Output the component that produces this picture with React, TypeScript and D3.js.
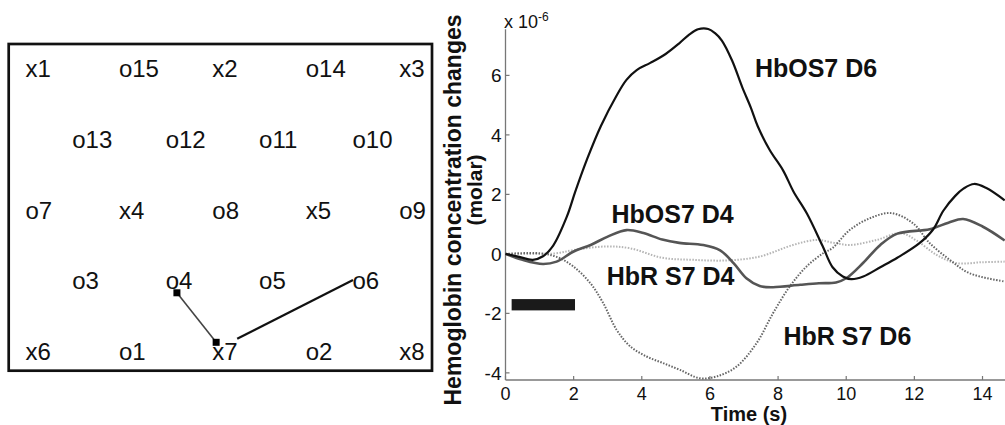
import React from "react";
import * as d3 from "d3";

// ---------- Left panel: optode layout ----------
const optodeLabels = [
  "x1", "o15", "x2", "o14", "x3",
  "o13", "o12", "o11", "o10",
  "o7", "x4", "o8", "x5", "o9",
  "o3", "o4", "o5", "o6",
  "x6", "o1", "x7", "o2", "x8",
];
const optodeCols = [0, 2, 4, 6, 8, 1, 3, 5, 7, 0, 2, 4, 6, 8, 1, 3, 5, 7, 0, 2, 4, 6, 8];
const optodeRows = [0, 0, 0, 0, 0, 1, 1, 1, 1, 2, 2, 2, 2, 2, 3, 3, 3, 3, 4, 4, 4, 4, 4];

// channels: [col,row] in grid units (S7-D4 and S7-D6)
const channelLines = [
  { from: [3.22, 3.05], to: [4.06, 3.75], color: "#444", width: 1.6, markers: true },
  { from: [4.51, 3.70], to: [6.99, 2.87], color: "#111", width: 2.2, markers: false },
];

// ---------- Right panel: time series ----------
const hboD6: [number, number][] = [
  [0, 0], [0.4, -0.1], [0.8, -0.2], [1.1, -0.08], [1.4, 0.28], [1.8, 1.25], [2.05, 2.1],
  [2.4, 3.2], [2.8, 4.3], [3.25, 5.3], [3.55, 5.85], [3.85, 6.18], [4.25, 6.42], [4.7, 6.72],
  [5.1, 7.08], [5.4, 7.38], [5.65, 7.55], [5.95, 7.56], [6.15, 7.42], [6.35, 7.17],
  [6.65, 6.5], [6.95, 5.6], [7.2, 4.92], [7.4, 4.3], [7.75, 3.5], [8.15, 2.8], [8.45, 2.1],
  [8.85, 1.35], [9.3, 0.28], [9.6, -0.45], [9.9, -0.76], [10.15, -0.85], [10.5, -0.76],
  [11.0, -0.45], [11.5, -0.13], [12.15, 0.36], [12.55, 0.82], [12.85, 1.45], [13.2, 1.95],
  [13.45, 2.2], [13.75, 2.35], [14.1, 2.22], [14.65, 1.8],
];
const hboD4: [number, number][] = [
  [0, 0], [0.5, -0.2], [1.1, -0.34], [1.5, -0.26], [2.0, 0.08], [2.5, 0.3], [3.0, 0.58],
  [3.55, 0.8], [4.05, 0.7], [4.6, 0.48], [5.1, 0.37], [5.8, 0.3], [6.3, 0.12], [6.7, -0.32],
  [7.07, -0.82], [7.46, -1.08], [7.85, -1.12], [8.65, -1.04], [9.2, -0.99], [9.7, -0.96],
  [10.0, -0.82], [10.5, -0.3], [11.0, 0.3], [11.5, 0.68], [12.45, 0.83], [13.0, 1.05],
  [13.43, 1.17], [14.0, 0.92], [14.65, 0.45],
];
const hbrD6: [number, number][] = [
  [0, 0], [1.0, 0.02], [1.5, -0.1], [2.0, -0.43], [2.5, -1.0], [2.87, -1.66], [3.26, -2.55],
  [3.65, -3.1], [4.14, -3.45], [4.6, -3.66], [5.12, -3.9], [5.7, -4.18], [6.2, -4.12],
  [6.78, -3.79], [7.37, -3.0], [7.85, -2.0], [8.34, -1.1], [8.83, -0.43], [9.32, 0.02],
  [9.6, 0.2], [10.1, 0.8], [10.7, 1.2], [11.32, 1.37], [11.96, 1.03], [12.45, 0.36],
  [13.04, -0.2], [13.62, -0.65], [14.65, -0.93],
];
const hbrD4: [number, number][] = [
  [0, 0], [1.0, 0.0], [1.5, 0.02], [2.0, 0.13], [2.97, 0.25], [3.65, 0.19], [4.6, -0.13],
  [5.5, -0.2], [6.5, -0.22], [7.46, -0.09], [8.44, 0.3], [9.13, 0.47], [9.6, 0.38],
  [10.1, 0.3], [10.9, 0.47], [11.6, 0.7], [12.06, 0.45], [12.65, -0.03], [13.23, -0.31],
  [14.0, -0.28], [14.65, -0.26],
];

const xTicks = [0, 2, 4, 6, 8, 10, 12, 14];
const yTicks = [-4, -2, 0, 2, 4, 6];
const stimulus = { start: 0.18, end: 2.04, top: -1.52, bottom: -1.9 };

const seriesLabels = [
  { text: "HbOS7 D6", t: 7.32, v: 5.93 },
  { text: "HbOS7 D4", t: 3.11, v: 1.04 },
  { text: "HbR S7 D4", t: 2.97, v: -1.04 },
  { text: "HbR S7 D6", t: 8.16, v: -3.06 },
];

export default function App() {
  // left panel scales
  const gx = d3.scaleLinear().domain([0, 8]).range([26.5, 400.2]);
  const gy = d3.scaleLinear().domain([0, 4]).range([77, 360]);

  // right panel scales
  const x = d3.scaleLinear().domain([0, 14.66]).range([505.5, 1005]);
  const y = d3.scaleLinear().domain([-4.24, 7.55]).range([380, 29.3]);

  const line = d3
    .line<[number, number]>()
    .x((d) => x(d[0]))
    .y((d) => y(d[1]))
    .curve(d3.curveCatmullRom.alpha(0.5));

  const font = "'Liberation Sans', Arial, Helvetica, sans-serif";
  const axisColor = "#777";

  return (
    <svg
      width={1005}
      height={425}
      style={{ position: "absolute", left: 0, top: 0, background: "#fff" }}
      fontFamily={font}
    >
      <rect x={0} y={0} width={1005} height={425} fill="#fff" />
      {/* Left panel */}
      <rect x={8.7} y={44} width={423.3} height={326.7} fill="none" stroke="#111" strokeWidth={2.7} />
      {optodeLabels.map((lab, i) => (
        <text key={lab} x={gx(optodeCols[i]) - 1} y={gy(optodeRows[i])} fontSize={24} fill="#111">
          {lab}
        </text>
      ))}
      {channelLines.map((c, i) => (
        <g key={i}>
          <line
            x1={gx(c.from[0])}
            y1={gy(c.from[1])}
            x2={gx(c.to[0])}
            y2={gy(c.to[1])}
            stroke={c.color}
            strokeWidth={c.width}
          />
          {c.markers &&
            [c.from, c.to].map((p, j) => (
              <rect key={j} x={gx(p[0]) - 3.5} y={gy(p[1]) - 3.5} width={7} height={7} fill="#000" />
            ))}
        </g>
      ))}

      {/* Right panel axes */}
      <line x1={x(0)} x2={x(0)} y1={y(7.55)} y2={y(-4.24)} stroke={axisColor} strokeWidth={1.3} />
      <line x1={x(0)} x2={1005} y1={y(-4.24)} y2={y(-4.24)} stroke={axisColor} strokeWidth={1.3} />
      {yTicks.map((v) => (
        <g key={v}>
          <line x1={x(0)} x2={x(0) + 4} y1={y(v)} y2={y(v)} stroke={axisColor} strokeWidth={1.2} />
          <text x={x(0) - 4} y={y(v) + 7} fontSize={19} textAnchor="end" fill="#111">
            {v}
          </text>
        </g>
      ))}
      {xTicks.map((t) => (
        <g key={t}>
          <line x1={x(t)} x2={x(t)} y1={y(-4.24)} y2={y(-4.24) - 4} stroke={axisColor} strokeWidth={1.2} />
          <text x={x(t)} y={400} fontSize={18} textAnchor="middle" fill="#111">
            {t}
          </text>
        </g>
      ))}
      <text x={504} y={28} fontSize={18} fill="#111">
        x 10<tspan dy={-7} fontSize={12}>-6</tspan>
      </text>
      <text x={749} y={421} fontSize={20} fontWeight="bold" textAnchor="middle" fill="#111">
        Time (s)
      </text>
      <text
        transform={`translate(461,210) rotate(-90)`}
        fontSize={23}
        fontWeight="bold"
        textAnchor="middle"
        fill="#111"
      >
        Hemoglobin concentration changes
      </text>
      <text
        transform={`translate(482,190) rotate(-90)`}
        fontSize={21}
        fontWeight="bold"
        textAnchor="middle"
        fill="#111"
      >
        (molar)
      </text>

      {/* Series */}
      <path d={line(hbrD4) || ""} fill="none" stroke="#b5b5b5" strokeWidth={2} strokeDasharray="1.5 1.5" />
      <path d={line(hbrD6) || ""} fill="none" stroke="#666" strokeWidth={2} strokeDasharray="1.5 1.5" />
      <path d={line(hboD4) || ""} fill="none" stroke="#555" strokeWidth={2.6} />
      <path d={line(hboD6) || ""} fill="none" stroke="#111" strokeWidth={2.2} />

      {/* stimulus bar */}
      <rect
        x={x(stimulus.start)}
        y={y(stimulus.top)}
        width={x(stimulus.end) - x(stimulus.start)}
        height={y(stimulus.bottom) - y(stimulus.top)}
        fill="#1a1a1a"
      />

      {seriesLabels.map((s) => (
        <text key={s.text} x={x(s.t)} y={y(s.v)} fontSize={25} fontWeight="bold" fill="#111">
          {s.text}
        </text>
      ))}
    </svg>
  );
}
